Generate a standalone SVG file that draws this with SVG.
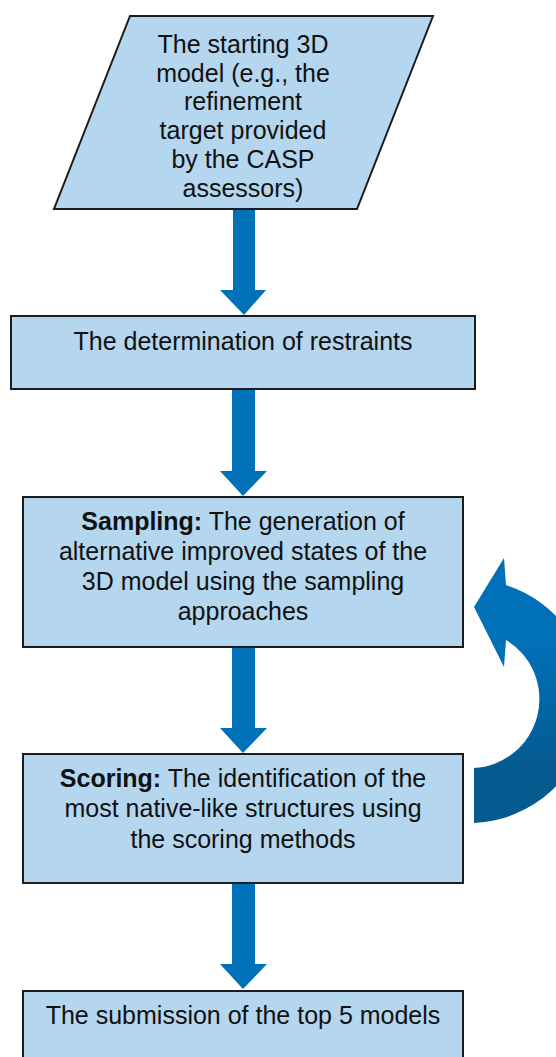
<svg xmlns="http://www.w3.org/2000/svg" width="556" height="1057" viewBox="0 0 556 1057">
<style>
.node{fill:#B4D6EE;stroke:#1c1c1c;stroke-width:2}
.t{font-family:"Liberation Sans",Arial,sans-serif;font-size:25px;fill:#111;text-anchor:middle}
.b{font-weight:bold}
.arr{fill:#0071B9}
</style>
<defs>
<linearGradient id="cg" gradientUnits="userSpaceOnUse" x1="0" y1="640" x2="0" y2="770">
<stop offset="0" stop-color="#0071B9"/>
<stop offset="1" stop-color="#055A90"/>
</linearGradient>
</defs>
<rect width="556" height="1057" fill="#fff"/>
<g id="connectors">
<path class="arr" d="M233 209 H255 V290 H266 L244 315 L220 290 H233 Z"/>
<path class="arr" d="M232 389 H255 V471 H267 L243 496 L220 471 H232 Z"/>
<path class="arr" d="M232 647 H255 V728 H267 L243 753 L220 728 H232 Z"/>
<path class="arr" d="M232 883 H255 V964 H267 L243 989 L220 964 H232 Z"/>
<path fill="url(#cg)" d="M474 768 A69 69 0 0 0 506 640 L504 667 L474 607 L504 558 L506 585 A122 122 0 0 1 474 823 Z"/>
</g>
<g id="start">
<polygon class="node" points="130,16 433,16 357,209 54,209"/>
<text class="t" x="243" y="53">The starting 3D</text>
<text class="t" x="243" y="82">model (e.g., the</text>
<text class="t" x="243" y="110">refinement</text>
<text class="t" x="243" y="139">target provided</text>
<text class="t" x="243" y="168">by the CASP</text>
<text class="t" x="243" y="197">assessors)</text>
</g>
<g id="restraints">
<rect class="node" x="11" y="316" width="464" height="73"/>
<text class="t" x="243" y="350">The determination of restraints</text>
</g>
<g id="sampling">
<rect class="node" x="23" y="497" width="440" height="150"/>
<text class="t" x="243" y="530"><tspan class="b">Sampling:</tspan> The generation of</text>
<text class="t" x="243" y="560">alternative improved states of the</text>
<text class="t" x="243" y="590">3D model using the sampling</text>
<text class="t" x="243" y="620">approaches</text>
</g>
<g id="scoring">
<rect class="node" x="23" y="754" width="440" height="129"/>
<text class="t" x="243" y="787"><tspan class="b">Scoring:</tspan> The identification of the</text>
<text class="t" x="243" y="817">most native-like structures using</text>
<text class="t" x="243" y="848">the scoring methods</text>
</g>
<g id="submission">
<rect class="node" x="23" y="991" width="440" height="90"/>
<text class="t" x="243" y="1024">The submission of the top 5 models</text>
</g>
</svg>
